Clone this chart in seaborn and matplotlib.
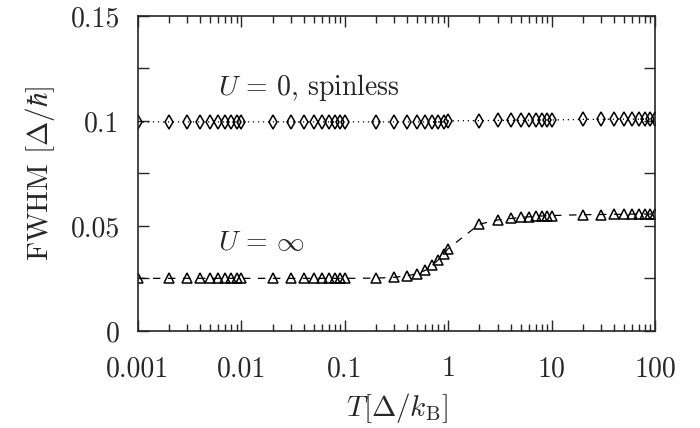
import numpy as np
import pandas as pd
import seaborn as sns
import matplotlib
matplotlib.use("Agg")
import matplotlib.pyplot as plt
from matplotlib.ticker import MultipleLocator, LogLocator, NullFormatter

# temperaturas: 1..9 x cada década de 0.001 a 100
T = [0.001, 0.002, 0.003, 0.004, 0.005, 0.006, 0.007, 0.008, 0.009,
     0.01, 0.02, 0.03, 0.04, 0.05, 0.06, 0.07, 0.08, 0.09,
     0.1, 0.2, 0.3, 0.4, 0.5, 0.6, 0.7, 0.8, 0.9,
     1, 2, 3, 4, 5, 6, 7, 8, 9,
     10, 20, 30, 40, 50, 60, 70, 80, 90, 100]

# U = 0, spinless
fwhm_u0 = [0.0995] * 9 + [0.0995] * 9 + [0.0995] * 9 + \
    [0.1000, 0.1001, 0.1002, 0.1002, 0.1002, 0.1003, 0.1003, 0.1003, 0.1003] + \
    [0.1004, 0.1007, 0.1007, 0.1008, 0.1008, 0.1008, 0.1008, 0.1008, 0.1008, 0.1008]

# U = infinito
fwhm_uinf = [0.0250] * 9 + [0.0250] * 9 + \
    [0.0250, 0.0251, 0.0255, 0.0262, 0.0272, 0.0288, 0.0312, 0.0338, 0.0365] + \
    [0.0392, 0.0508, 0.0528, 0.0535, 0.0540, 0.0543, 0.0545, 0.0547, 0.0548] + \
    [0.0549, 0.0553, 0.0554, 0.0555, 0.0555, 0.0556, 0.0556, 0.0556, 0.0556, 0.0556]

df = pd.DataFrame({'T': T, 'u0': fwhm_u0, 'uinf': fwhm_uinf})

sns.set_style('ticks')
plt.rcParams['font.family'] = ['serif']
plt.rcParams['font.serif'] = ['cmr10', 'DejaVu Serif']
plt.rcParams['mathtext.fontset'] = 'cm'
plt.rcParams['axes.formatter.use_mathtext'] = True

fig = plt.figure(figsize=(7, 4.28), dpi=100)
ax = fig.add_axes([0.197, 0.227, 0.739, 0.736])

sns.lineplot(data=df, x='T', y='u0', ax=ax, color='black', linestyle=(0, (1, 3)),
             linewidth=0.9, marker='d', markersize=7.5, markerfacecolor='none',
             markeredgecolor='black', markeredgewidth=1.1)
sns.lineplot(data=df, x='T', y='uinf', ax=ax, color='black', linestyle=(0, (6, 6)),
             linewidth=0.9, marker='^', markersize=7, markerfacecolor='none',
             markeredgecolor='black', markeredgewidth=1.1)

ax.set_xscale('log')
ax.set_xlim(0.001, 100)
ax.set_ylim(0, 0.15)

ax.set_xticks([0.001, 0.01, 0.1, 1, 10, 100])
ax.set_xticklabels(['0.001', '0.01', '0.1', '1', '10', '100'])
ax.xaxis.set_minor_locator(LogLocator(base=10, subs=np.arange(2, 10)))
ax.xaxis.set_minor_formatter(NullFormatter())
ax.set_yticks([0, 0.05, 0.1, 0.15])
ax.set_yticklabels(['0', '0.05', '0.1', '0.15'])
ax.yaxis.set_minor_locator(MultipleLocator(0.025))

ax.tick_params(which='both', direction='in', top=True, right=True,
               labelsize=20, width=1)
ax.tick_params(axis='x', pad=18)
ax.tick_params(axis='y', pad=13)
ax.tick_params(which='major', length=8)
ax.tick_params(which='minor', length=5)
ax.tick_params(axis='y', which='minor', length=8)
for s in ax.spines.values():
    s.set_linewidth(1.2)

ax.set_xlabel(r'$T[\mathit{\Delta}/k_\mathrm{B}]$', fontsize=21, labelpad=6)
ax.set_ylabel(r'FWHM $[\mathit{\Delta}/\hbar]$', fontsize=21, labelpad=10)

ax.text(0.0059, 0.116, r'$U\,=\,0$, spinless', fontsize=20, va='center', ha='left')
ax.text(0.0059, 0.0418, r'$U\,=\,\infty$', fontsize=20, va='center', ha='left')

fig.savefig('out.png', dpi=100)
